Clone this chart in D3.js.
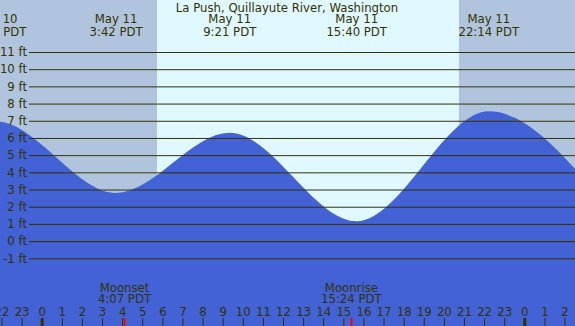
<!DOCTYPE html>
<html>
<head>
<meta charset="utf-8">
<script src="https://cdn.jsdelivr.net/npm/d3@7"></script>
<style>
  body { margin: 0; background: #fff; }
  svg { display: block; }
  text { font-family: "DejaVu Sans", sans-serif; font-size: 11.7px; fill: #333300; }
</style>
</head>
<body>
<svg id="chart" width="575" height="326"></svg>
<script>
'use strict'

// tide extremes (day of May, local time, height in ft)
var tideDays  = [10, 10, 11, 11, 11, 11, 12]
var tideTimes = ["15:10", "21:44", "3:42", "9:21", "15:40", "22:14", "4:00"]
var tideFeet  = [0.9, 6.96, 2.8, 6.3, 1.15, 7.55, 2.2]

// sun and moon, May 11
var sunrise = "5:44"
var sunset  = "20:45"
var moonNames = ["Moonset", "Moonrise"]
var moonTimes = ["4:07", "15:24"]

var feetTicks = d3.range(-1, 12)
var title = "La Push, Quillayute River, Washington"

var svg = d3.select("#chart"),
    width = +svg.attr("width"),
    height = +svg.attr("height")

// hours from May 11 00:00
function hours(day, hm) {
  let p = hm.split(":")
  return (day - 11) * 24 + (+p[0]) + (+p[1]) / 60
}

var x = d3.scaleLinear().domain([0, 24]).range([41.7, 524.3])
var y = d3.scaleLinear().domain([-1, 11]).range([258.3, 52])
var tStart = x.invert(0), tEnd = x.invert(width)

var tides = tideTimes.map((t, i) => ({day: tideDays[i], time: t, t: hours(tideDays[i], t), ft: tideFeet[i]}))

// day / night background
var tRise = hours(11, sunrise), tSet = hours(11, sunset)
svg.append("rect").attr("x", 0).attr("y", 0)
  .attr("width", width).attr("height", height).attr("fill", "#b0c4de")
svg.append("rect").attr("x", x(tRise)).attr("y", 0)
  .attr("width", x(tSet) - x(tRise)).attr("height", height).attr("fill", "#e0f8ff")

// water
var area = d3.area()
  .x(d => x(d.t))
  .y0(height)
  .y1(d => y(d.ft))
  .curve(d3.curveMonotoneX)

svg.append("path")
  .datum(tides)
  .attr("d", area)
  .attr("fill", "#4262d6")

// feet grid
var yAxis = svg.append("g")
  .attr("transform", "translate(29,0)")
  .call(d3.axisLeft(y).tickValues(feetTicks).tickSize(-(width - 29)).tickPadding(2)
    .tickFormat(d => d + " ft"))
yAxis.select(".domain").remove()
yAxis.selectAll("line").attr("stroke", "#333300")
yAxis.selectAll("text").attr("font-family", null).attr("font-size", null).attr("fill", null)

// hour ticks along the bottom
var hourTicks = d3.range(Math.ceil(tStart), Math.floor(tEnd) + 1)
var xAxis = svg.append("g")
  .attr("transform", "translate(0," + height + ")")
  .call(d3.axisTop(x).tickValues(hourTicks).tickSize(8).tickPadding(2)
    .tickFormat(d => (d + 24) % 24))
xAxis.select(".domain").remove()
xAxis.selectAll("line").attr("stroke", "#333300")
  .attr("stroke-width", d => d % 24 == 0 ? 3 : 1)
xAxis.selectAll("text").attr("font-family", null).attr("font-size", null).attr("fill", null)

// moon events
moonNames.forEach((name, i) => {
  let mx = x(hours(11, moonTimes[i]))
  svg.append("line")
    .attr("x1", mx).attr("x2", mx).attr("y1", height - 8).attr("y2", height)
    .attr("stroke", "#ff0000").attr("stroke-width", 2)
  svg.append("text").attr("x", mx).attr("y", 291.5)
    .attr("text-anchor", "middle").text(name)
  svg.append("text").attr("x", mx).attr("y", 303)
    .attr("text-anchor", "middle").text(moonTimes[i] + " PDT")
})

// high / low labels
var labelled = tides.filter(d => x(d.t) > -40 && x(d.t) < width - 10)
labelled.forEach(d => {
  svg.append("text").attr("x", x(d.t)).attr("y", 23)
    .attr("text-anchor", "middle").text("May " + d.day)
  svg.append("text").attr("x", x(d.t)).attr("y", 35.5)
    .attr("text-anchor", "middle").text(d.time + " PDT")
})

svg.append("text")
  .attr("x", 287).attr("y", 11.5)
  .attr("text-anchor", "middle")
  .text(title)
</script>
</body>
</html>
